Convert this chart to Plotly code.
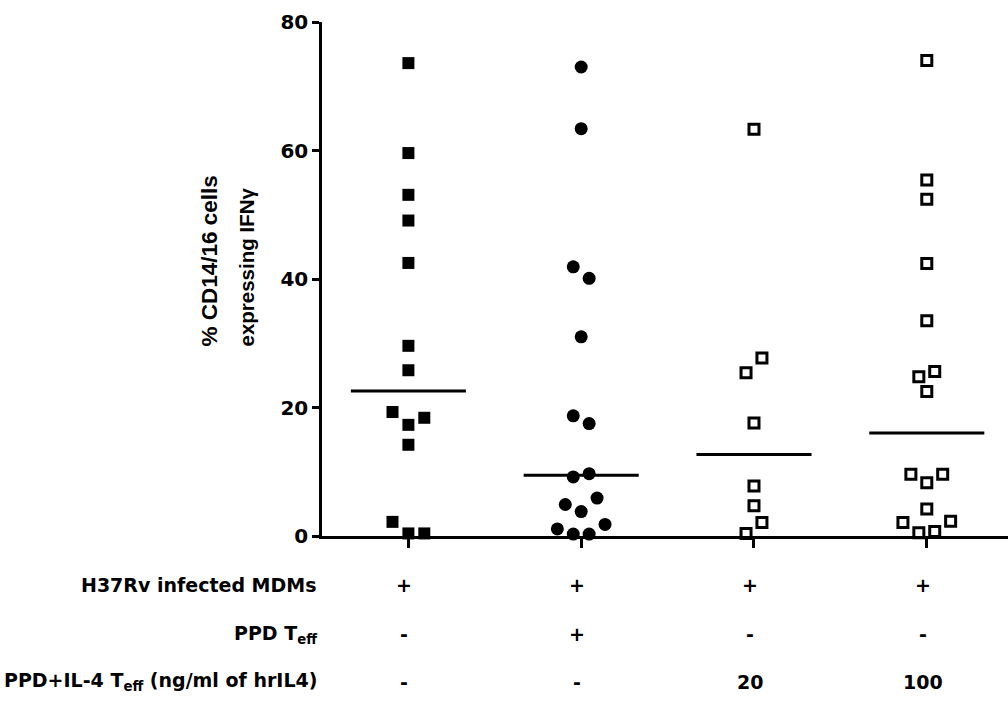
import numpy as np
import plotly.graph_objects as go

# ---------------- data ----------------
group_names = ["MDM", "MDM+PPD Teff", "MDM+IL4(20)", "MDM+IL4(100)"]

g1_values = [73.6, 59.6, 53.1, 49.1, 42.5, 29.6, 25.8, 19.3, 18.4, 17.3, 14.2, 2.2, 0.4, 0.4]
g2_values = [73.0, 63.4, 41.9, 40.1, 31.0, 18.7, 17.5, 9.7, 9.2, 5.9, 4.9, 3.8, 1.8, 1.1, 0.3, 0.3]
g3_values = [63.3, 27.7, 25.4, 17.6, 7.8, 4.7, 2.1, 0.4]
g4_values = [74.0, 55.4, 52.4, 42.4, 33.5, 25.6, 24.8, 22.5, 9.6, 9.6, 8.3, 4.2, 2.3, 2.1, 0.7, 0.5]

# beeswarm slots (horizontal layout of overlapping points, in half-marker steps)
g1_slots = [0, 0, 0, 0, 0, 0, 0, -2, 2, 0, 0, -2, 0, 2]
g2_slots = [0, 0, -1, 1, 0, -1, 1, 1, -1, 2, -2, 0, 3, -3, -1, 1]
g3_slots = [0, 1, -1, 0, 0, 0, 1, -1]
g4_slots = [0, 0, 0, 0, 0, 1, -1, 0, -2, 2, 0, 0, 3, -3, 1, -1]

y_ticks = [0, 20, 40, 60, 80]
y_title_lines = ["% CD14/16 cells", "expressing IFNγ"]

row_labels = ["H37Rv infected MDMs", "PPD T<sub>eff</sub>", "PPD+IL-4 T<sub>eff</sub> (ng/ml of hrIL4)"]
row_values = [["+", "+", "+", "+"],
              ["-", "+", "-", "-"],
              ["-", "-", "20", "100"]]

# ---------------- style ----------------
W, H = 1008, 702
ML, MR, MT, MB = 322, 0, 22, 166
X_RANGE = [0.5, 4.47]
SLOT = 0.046          # data-units per half-marker slot
HALF_LINE = 0.333     # half width of median line
FONT = "DejaVu Sans"
TFONT = "Liberation Sans"

groups = [
    (g1_values, g1_slots, dict(symbol="square", size=12, color="black", line=dict(width=0))),
    (g2_values, g2_slots, dict(symbol="circle", size=13, color="black", line=dict(width=0))),
    (g3_values, g3_slots, dict(symbol="square-open", size=10, color="black", line=dict(width=3, color="black"))),
    (g4_values, g4_slots, dict(symbol="square-open", size=10, color="black", line=dict(width=3, color="black"))),
]

fig = go.Figure()
for i, (vals, slots, mk) in enumerate(groups):
    pos = i + 1
    xs = [pos + s * SLOT for s in slots]
    fig.add_trace(go.Scatter(x=xs, y=vals, mode="markers", marker=mk,
                             cliponaxis=False, showlegend=False, name=group_names[i]))
    med = float(np.median(vals))
    fig.add_trace(go.Scatter(x=[pos - HALF_LINE, pos + HALF_LINE], y=[med, med], mode="lines",
                             line=dict(color="black", width=3), showlegend=False,
                             cliponaxis=False))

plot_w = W - ML - MR
plot_h = H - MT - MB


def px_x(px):
    return (px - ML) / plot_w


def px_y(py):
    return (H - MB - py) / plot_h


annotations = []
# y axis title (two lines, start-aligned at bottom)
title_x_px = [209, 246]
title_sizes = [22.5, 20.5]
for line, xp, fs in zip(y_title_lines, title_x_px, title_sizes):
    annotations.append(dict(text="<b>%s</b>" % line, xref="paper", yref="paper",
                            x=px_x(xp), y=px_y(349), xanchor="center", yanchor="bottom",
                            textangle=-90, showarrow=False,
                            font=dict(family=TFONT, size=fs, color="black")))

row_y_px = [585, 634, 682]
for r, (lab, vals) in enumerate(zip(row_labels, row_values)):
    annotations.append(dict(text="<b>%s</b>" % lab, xref="paper", yref="paper",
                            x=px_x(319), y=px_y(row_y_px[r]), xanchor="right", yanchor="middle",
                            showarrow=False, font=dict(family=FONT, size=19, color="black")))
    for c, v in enumerate(vals):
        annotations.append(dict(text="<b>%s</b>" % v, xref="x", yref="paper",
                                x=c + 1, xshift=-4, y=px_y(row_y_px[r]), xanchor="center",
                                yanchor="middle", showarrow=False,
                                font=dict(family=FONT, size=19, color="black")))

fig.update_layout(
    width=W, height=H,
    margin=dict(l=ML, r=MR, t=MT, b=MB, pad=0),
    paper_bgcolor="white", plot_bgcolor="white",
    showlegend=False,
    annotations=annotations,
    xaxis=dict(range=X_RANGE, showgrid=False, zeroline=False, showline=True,
               linecolor="black", linewidth=2.5, ticks="outside", ticklen=9,
               tickwidth=2.5, tickcolor="black", tickvals=[1, 2, 3, 4],
               showticklabels=False, layer="below traces", fixedrange=True),
    yaxis=dict(range=[0, 80], showgrid=False, zeroline=False, showline=True,
               linecolor="black", linewidth=2.5, ticks="outside", ticklen=7,
               tickwidth=2.5, tickcolor="black", tickvals=y_ticks,
               ticktext=["<b>%d</b>" % t for t in y_ticks],
               tickfont=dict(family=FONT, size=20, color="black"),
               layer="below traces", fixedrange=True),
)

fig.write_html("out.html", config={"displayModeBar": False},
               post_script="document.body.style.margin='0';document.body.style.overflow='hidden';")
